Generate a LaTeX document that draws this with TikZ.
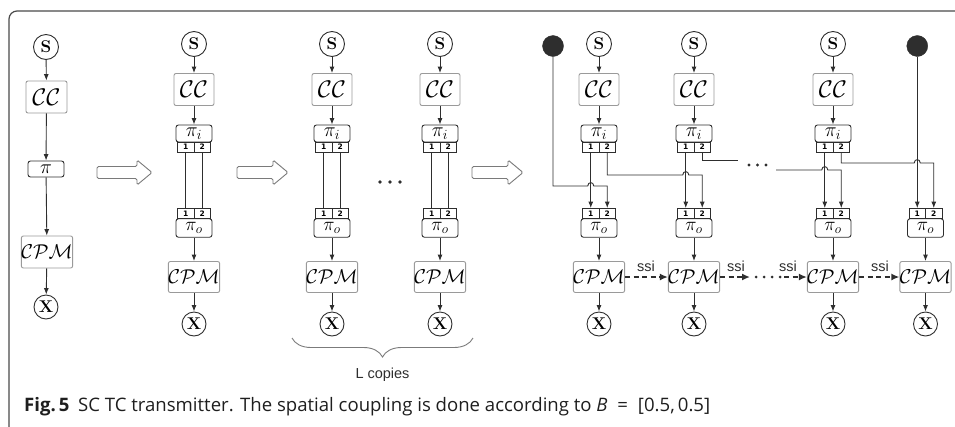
\documentclass[tikz,border=0pt]{standalone}
\usepackage{fix-cm}
\usepackage{fontspec}
\usetikzlibrary{arrows.meta,calc,decorations.pathreplacing}
\newfontfamily\arialf{Liberation Sans}
\newfontfamily\portf{DejaVu Sans}
\newfontfamily\capf{Open Sans}
\definecolor{linec}{HTML}{2E2E2E}
\definecolor{boxgray}{HTML}{9A9A9A}
\definecolor{arrgray}{HTML}{7A7A7A}
\definecolor{framec}{HTML}{4A4A4A}
\definecolor{capc}{HTML}{1E1E1E}
\tikzset{
  conn/.style={draw=linec, line width=0.9pt},
  arr/.style={conn, -{Latex[length=6.5pt,width=5pt]}},
  sc/.style={circle, draw=linec, line width=0.9pt, minimum size=25pt, inner sep=0pt, font=\fontsize{17}{17}\selectfont\bfseries},
  ccb/.style={draw=boxgray, line width=0.9pt, rounded corners=2pt, minimum width=40pt, minimum height=32pt, inner sep=0pt, font=\fontsize{24}{24}\selectfont},
  cpmb/.style={draw=boxgray, line width=0.9pt, rounded corners=2pt, minimum width=51pt, minimum height=31pt, inner sep=0pt, font=\fontsize{20}{20}\selectfont},
  pib/.style={draw=linec, line width=0.9pt, rounded corners=2.5pt, minimum width=36pt, minimum height=17pt, inner sep=0pt, font=\fontsize{20}{20}\selectfont},
  portc/.style={draw=linec, line width=0.8pt, minimum width=16.5pt, minimum height=10pt, inner sep=0pt, font=\portf\bfseries\fontsize{7.5}{7.5}\selectfont},
  fdot/.style={circle, fill=linec, draw=linec, minimum size=21pt, inner sep=0pt},
  harrow/.style={draw=arrgray, line width=0.9pt, fill=white, rounded corners=1.5pt},
  ssiarr/.style={draw=linec, line width=1.6pt, dash pattern=on 5pt off 3.5pt, -{Latex[length=8pt,width=7pt]}},
  lab/.style={font=\arialf\fontsize{14.5}{14.5}\selectfont, text=linec, inner sep=0pt},
}
\newcommand\hop[1]{-- ($(#1)+(-3,0)$) .. controls +(0,-4.5) and +(0,-4.5) .. ($(#1)+(3,0)$)}
\newcommand\coltop[2]{%
  \node[sc] (s#1) at (#2,44) {S};
  \node[ccb] (cc#1) at (#2,89.5) {$\mathcal{CC}$};
  \node[pib] (pi#1) at (#2,133.5) {$\pi_i$};
  \node[portc] (p#1a) at (#2-8.25,147) {1};
  \node[portc] (p#1b) at (#2+8.25,147) {2};
  \draw[arr] (s#1) -- (cc#1);
  \draw[arr] (cc#1) -- (pi#1);
}
\newcommand\colbot[2]{%
  \node[portc] (q#1a) at (#2-8.25,213.5) {1};
  \node[portc] (q#1b) at (#2+8.25,213.5) {2};
  \node[pib, minimum height=18.5pt, font=\fontsize{19}{19}\selectfont] (po#1) at (#2,228) {\raisebox{-2.5pt}{$\pi_o$}};
  \node[cpmb] (cpm#1) at (#2,277) {$\mathcal{CPM}$};
  \node[sc, minimum size=24pt] (x#1) at (#2,324) {X};
  \draw[arr] (po#1) -- (cpm#1);
  \draw[arr] (cpm#1) -- (x#1);
}
\begin{document}
\begin{tikzpicture}[x=1pt,y=-1pt]
\useasboundingbox (0,0) rectangle (955,426);
% frame
\draw[framec, line width=1.2pt, rounded corners=8pt] (9,430) -- (9,11) -- (960,11);

% column 1
\node[sc] (s1) at (46,47) {S};
\node[ccb, minimum width=41pt] (cc1) at (46.5,97) {$\mathcal{CC}$};
\node[pib, minimum height=16pt] (pi1) at (46,169) {$\pi$};
\node[cpmb, minimum width=50pt, minimum height=32pt] (cpm1) at (47,252) {$\mathcal{CPM}$};
\node[sc, minimum size=24pt] (x1) at (46,307) {X};
\draw[arr] (s1) -- (cc1);
\draw[arr] (cc1) -- (pi1);
\draw[arr] (pi1) -- (cpm1);
\draw[arr] (cpm1) -- (x1);

% hollow arrows
\draw[harrow] (97,166.5) -- (137,166.5) -- (137,160) -- (152,172.5) -- (137,185) -- (137,178.5) -- (97,178.5) -- cycle;
\draw[harrow] (237,166.5) -- (273,166.5) -- (273,160) -- (288,172.5) -- (273,185) -- (273,178.5) -- (237,178.5) -- cycle;
\draw[harrow] (472,166.5) -- (508,166.5) -- (508,160) -- (523,172.5) -- (508,185) -- (508,178.5) -- (472,178.5) -- cycle;

% middle columns
\coltop{2}{194}\colbot{2}{194}
\draw[conn] (p2a) -- (q2a); \draw[conn] (p2b) -- (q2b);
\coltop{3}{332}\colbot{3}{332}
\draw[conn] (p3a) -- (q3a); \draw[conn] (p3b) -- (q3b);
\coltop{4}{440}\colbot{4}{440}
\draw[conn] (p4a) -- (q4a); \draw[conn] (p4b) -- (q4b);
\foreach \dx in {380,390,400} \fill[linec] (\dx,182) circle[radius=1.8pt];

% brace
\draw[boxgray!80!black, line width=0.9pt, decorate, decoration={brace, mirror, amplitude=19pt}] (292,338) -- (473,338);
\node[lab, anchor=base] (lc) at (382.5,378) {L copies};

% right part
\coltop{5}{599}\colbot{5}{599}
\coltop{6}{694}\colbot{6}{694}
\coltop{7}{833}\colbot{7}{833}
\colbot{8}{925.5}
\node[fdot] (fL) at (553,46) {};
\node[fdot] (fR) at (q8a |- 0,46) {};

\coordinate (LF) at (0,186);
\coordinate (L5) at (0,175);
\coordinate (L6) at (0,160);
\coordinate (L7) at (0,170);
\coordinate (L7b) at (0,163);
\coordinate (e6) at (738,160);
\coordinate (s7) at (776,170);

\draw[arr] (p5a) -- (q5a);
\draw[arr] (p6a) -- (q6a);
\draw[arr] (p7a) -- (q7a);
\draw[arr] (fR) -- (q8a);
\draw[arr] (fL.south) -- (fL.south |- LF) \hop{q5a.north |- LF} -- (q5b.north |- LF) -- (q5b.north);
\draw[arr] (p5b.south) -- (p5b.south |- L5) \hop{q6a.north |- L5} -- (q6b.north |- L5) -- (q6b.north);
\draw[conn] (p6b.south) |- (e6);
\foreach \dx in {749,757.5,766} \fill[linec] (\dx,165) circle[radius=1.6pt];
\draw[arr] (s7) \hop{q7a.north |- L7} -- (q7b.north |- L7) -- (q7b.north);
\draw[arr] (p7b.south) -- (p7b.south |- L7b) \hop{fR.south |- L7b} -- (q8b.north |- L7b) -- (q8b.north);

% ssi row
\coordinate (d1) at (750,277);
\coordinate (d2) at (784,277);
\draw[ssiarr] (cpm5) -- (cpm6);
\node[lab, anchor=base] (ssi1) at (646,271) {ssi};
\draw[ssiarr] (cpm6) -- (d1);
\node[lab, anchor=base] (ssi2) at (736,271) {ssi};
\foreach \dx in {756,764,772,780} \fill[linec] (\dx,277) circle[radius=1.5pt];
\draw[ssiarr] (d2) -- (cpm7);
\node[lab, anchor=base] (ssi3) at (788,271) {ssi};
\draw[ssiarr] (cpm7) -- (cpm8);
\node[lab, anchor=base] (ssi4) at (880,271) {ssi};

% caption
\node[anchor=base west, inner sep=0pt, text=capc] (cap) at (24,411) {\resizebox{686pt}{!}{\capf\fontsize{15}{15}\selectfont\textbf{Fig.\,5}\hspace{7pt}SC TC transmitter. The spatial coupling is done according to \textit{B}\hspace{8pt}=\hspace{8pt}[0.5,\,0.5]}};
\end{tikzpicture}
\end{document}
